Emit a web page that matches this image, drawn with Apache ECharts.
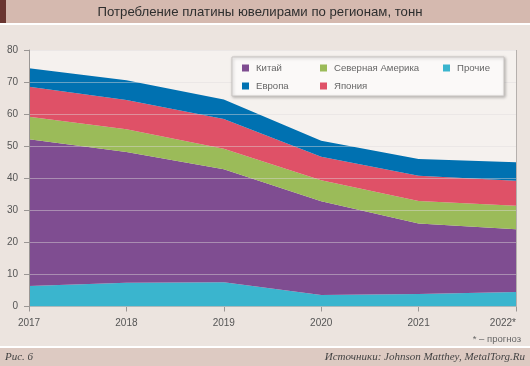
<!DOCTYPE html>
<html><head><meta charset="utf-8">
<script src="https://cdn.jsdelivr.net/npm/echarts@6/dist/echarts.min.js"></script>
<style>html,body{margin:0;padding:0;background:#ece4df;}#c{width:530px;height:366px;}</style>
</head><body><div id="c"></div>
<script>
const years = ['2017','2018','2019','2020','2021','2022*'];
const other = [6.4, 7.4, 7.6, 3.6, 3.9, 4.5];
const china = [45.8, 40.8, 35.2, 29.2, 22.0, 19.6];
const northAmerica = [7.0, 7.1, 6.4, 6.6, 7.0, 7.3];
const japan = [9.3, 9.1, 9.3, 7.3, 7.9, 7.8];
const europe = [5.8, 6.2, 6.1, 5.0, 5.2, 5.8];
const yTicks = [0, 10, 20, 30, 40, 50, 60, 70, 80];

const FONT = "'Liberation Sans', Arial, sans-serif";
const colors = {other:'#3ab5ce', china:'#7f4d91', na:'#9bbb59', japan:'#df5167', europe:'#0071b1'};

function areaSeries(name, data, color){
  return {name, type:'line', stack:'total', data, symbol:'none', showSymbol:false,
    lineStyle:{width:0, color}, itemStyle:{color}, areaStyle:{color, opacity:1}, z:2};
}
const legendBase = {orient:'vertical', icon:'rect', itemWidth:7, itemHeight:7, itemGap:8,
  textStyle:{fontFamily:FONT, fontSize:9.6, color:'#666', padding:[0,0,0,2]}, selectedMode:false};

const chart = echarts.init(document.getElementById('c'), null, {renderer:'canvas'});
chart.setOption({
  animation:false,
  backgroundColor:'#ece4df',
  graphic:[
    {type:'rect', shape:{x:0,y:0,width:530,height:23}, style:{fill:'#d5b9af'}, z:0},
    {type:'rect', shape:{x:0,y:0,width:6,height:23}, style:{fill:'#6a3530'}, z:1},
    {type:'rect', shape:{x:0,y:23,width:530,height:2}, style:{fill:'#ffffff'}, z:0},
    {type:'text', x:260, y:12, style:{text:'Потребление платины ювелирами по регионам, тонн', font:"13.2px "+FONT, fill:'#2e2e2e', textAlign:'center', textVerticalAlign:'middle'}, z:2},
    {type:'rect', shape:{x:0,y:346,width:530,height:2}, style:{fill:'#ffffff'}, z:0},
    {type:'rect', shape:{x:0,y:348,width:530,height:18}, style:{fill:'#ddcac2'}, z:0},
    {type:'text', x:5, y:357, style:{text:'Рис. 6', font:"italic 11px 'Liberation Serif', 'DejaVu Serif', serif", fill:'#444', textVerticalAlign:'middle'}, z:2},
    {type:'text', x:525, y:357, style:{text:'Источники: Johnson Matthey, MetalTorg.Ru', font:"italic 11px 'Liberation Serif', 'DejaVu Serif', serif", fill:'#444', textAlign:'right', textVerticalAlign:'middle'}, z:2},
    {type:'text', x:521, y:339, style:{text:'* – прогноз', font:"9.5px "+FONT, fill:'#666', textAlign:'right', textVerticalAlign:'middle'}, z:2},
    {type:'rect', shape:{x:232,y:57,width:272,height:39}, style:{fill:'#fbf9f8', stroke:'#c8c4c2', lineWidth:1, shadowBlur:3, shadowOffsetX:1, shadowOffsetY:1, shadowColor:'rgba(0,0,0,0.25)'}, z:10}
  ],
  grid:{left:29, right:14, top:50, bottom:59.5, show:true, backgroundColor:'#f5f1ee', borderColor:'#b5b0ad', borderWidth:0},
  legend:[
    Object.assign({}, legendBase, {data:['Китай','Европа'], left:237, top:58, z:11}),
    Object.assign({}, legendBase, {data:['Северная Америка','Япония'], left:315, top:58, z:11}),
    Object.assign({}, legendBase, {data:['Прочие'], left:438, top:58, z:11})
  ],
  xAxis:{type:'category', data:years, boundaryGap:false,
    axisLine:{show:true, lineStyle:{color:'#9a9694', width:1}},
    axisTick:{show:true, length:5, alignWithLabel:true, lineStyle:{color:'#9a9694'}},
    axisLabel:{fontFamily:FONT, fontSize:10, color:'#555', margin:12, alignMaxLabel:'right'},
    splitLine:{show:false}},
  yAxis:{type:'value', min:0, max:80, interval:10, z:5,
    axisLine:{show:true, lineStyle:{color:'#9a9694', width:1}},
    axisTick:{show:true, length:5, lineStyle:{color:'#9a9694'}},
    axisLabel:{fontFamily:FONT, fontSize:10, color:'#555', margin:11, formatter:v=>yTicks.includes(v)?String(v):''},
    splitLine:{show:true, lineStyle:{color:'rgba(225,220,220,0.45)', width:1}}},
  series:[
    areaSeries('Прочие', other, colors.other),
    areaSeries('Китай', china, colors.china),
    areaSeries('Северная Америка', northAmerica, colors.na),
    areaSeries('Япония', japan, colors.japan),
    areaSeries('Европа', europe, colors.europe),
    {type:'line', data:[], markLine:{silent:true, symbol:'none', label:{show:false},
      lineStyle:{color:'#b5b0ad', type:'solid', width:1}, data:[{xAxis:'2022*'}]}, z:6}
  ]
});
</script></body></html>
